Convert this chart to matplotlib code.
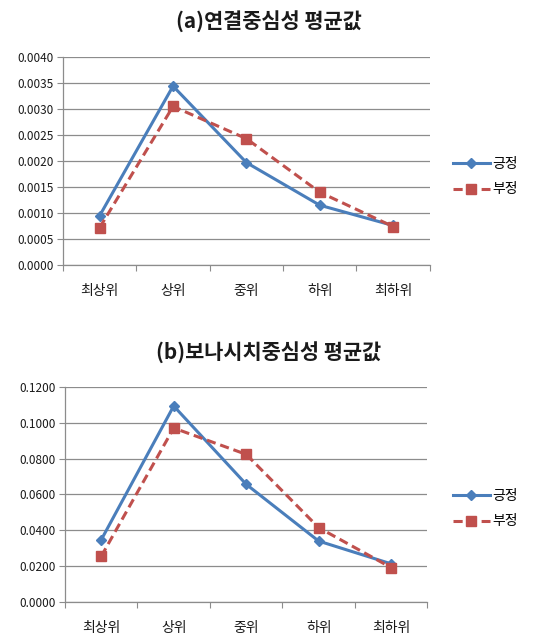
import matplotlib
matplotlib.use("Agg")
import matplotlib.pyplot as plt
from matplotlib.ticker import FixedLocator

plt.rcParams['font.family'] = ['Noto Sans CJK KR', 'DejaVu Sans']

categories = ['최상위', '상위', '중위', '하위', '최하위']
series_names = ['긍정', '부정']

title_a = '(a)연결중심성 평균값'
pos_a = [0.00095, 0.00344, 0.00197, 0.00115, 0.00076]
neg_a = [0.00072, 0.00305, 0.00243, 0.00140, 0.00074]
yticks_a = [0.0, 0.0005, 0.0010, 0.0015, 0.0020, 0.0025, 0.0030, 0.0035, 0.0040]

title_b = '(b)보나시치중심성 평균값'
pos_b = [0.0347, 0.1094, 0.0657, 0.0340, 0.0213]
neg_b = [0.0255, 0.0971, 0.0824, 0.0415, 0.0192]
yticks_b = [0.0, 0.02, 0.04, 0.06, 0.08, 0.10, 0.12]

blue = '#4a7ebb'
red = '#c0504d'
grid_c = '#8c8c8c'
text_c = '#1a1a1a'

fig = plt.figure(figsize=(5.49, 6.36), dpi=100)


def draw(rect, title, title_y, pos, neg, yticks, legend_y):
    ax = fig.add_axes(rect)
    x = list(range(len(categories)))
    l1, = ax.plot(x, pos, color=blue, lw=2.2, marker='D', ms=5.5,
                  markerfacecolor=blue, markeredgecolor=blue, zorder=3)
    l2, = ax.plot(x, neg, color=red, lw=2.2, ls=(0, (3, 1.6)), marker='s', ms=7.5,
                  markerfacecolor=red, markeredgecolor=red, zorder=3)
    ax.set_xlim(-0.5, len(categories) - 0.5)
    ax.set_ylim(yticks[0], yticks[-1])
    ax.set_yticks(yticks)
    ax.set_yticklabels([f'{v:.4f}' for v in yticks], fontsize=8.5, color=text_c)
    ax.xaxis.set_major_locator(FixedLocator([i - 0.5 for i in range(len(categories) + 1)]))
    ax.xaxis.set_minor_locator(FixedLocator(x))
    ax.set_xticklabels([], minor=False)
    ax.set_xticklabels(categories, minor=True, fontsize=10, color=text_c)
    ax.tick_params(axis='x', which='major', direction='out', length=4, color=grid_c)
    ax.tick_params(axis='x', which='minor', length=0, pad=14)
    ax.tick_params(axis='y', direction='out', length=4, color=grid_c, pad=3)
    ax.grid(axis='y', color=grid_c, lw=0.9)
    ax.set_axisbelow(True)
    for s in ['top', 'right']:
        ax.spines[s].set_visible(False)
    for s in ['left', 'bottom']:
        ax.spines[s].set_color(grid_c)
        ax.spines[s].set_linewidth(0.9)
    fig.text(0.49, title_y, title,
             ha='center', va='center', fontsize=15, fontweight='bold', color=text_c)
    fig.legend([l1, l2], series_names, loc='center left',
               bbox_to_anchor=(0.825, legend_y), frameon=False, fontsize=10,
               handlelength=2.65, handletextpad=0.2, labelspacing=0.85,
               borderpad=0, borderaxespad=0)
    return ax


draw([0.1148, 0.5833, 0.668, 0.3271], title_a, 1 - 22 / 636, pos_a, neg_a, yticks_a, 1 - 176.5 / 636)
draw([0.1184, 0.0535, 0.660, 0.338], title_b, 1 - 353 / 636, pos_b, neg_b, yticks_b, 1 - 508.5 / 636)

fig.savefig('out.png', dpi=100)
